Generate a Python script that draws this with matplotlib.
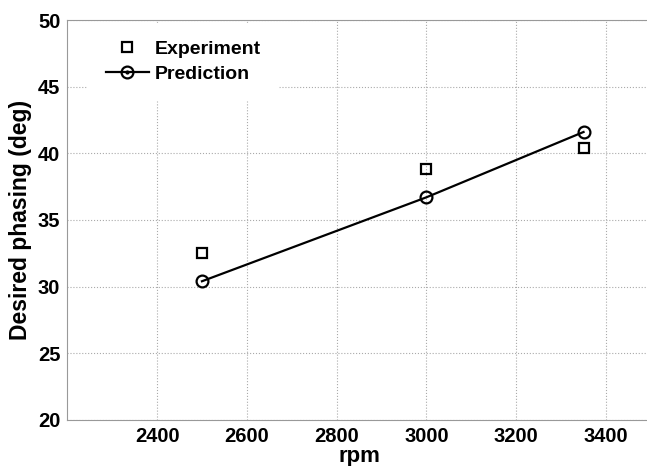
import matplotlib
matplotlib.use("Agg")
import matplotlib.pyplot as plt
from matplotlib.lines import Line2D

rpm = [2500, 3000, 3350]
experiment = [32.5, 38.8, 40.4]
prediction = [30.4, 36.7, 41.6]
xticks = [2400, 2600, 2800, 3000, 3200, 3400]
yticks = [20, 25, 30, 35, 40, 45, 50]

plt.rcParams['font.family'] = ['Liberation Sans', 'DejaVu Sans']
plt.rcParams['font.weight'] = 'bold'

fig = plt.figure(figsize=(6.47, 4.66), dpi=100)
ax = fig.add_axes([0.104, 0.099, 0.902, 0.858])

exp_line, = ax.plot(rpm, experiment, 's', color='black', mfc='none', mew=1.6, ms=7.5,
                    linestyle='none')
pred_line, = ax.plot(rpm, prediction, '-o', color='black', mfc='none', mew=1.6, ms=8.5, lw=1.6)

ax.set_xlim(2200, 3500)
ax.set_ylim(20, 50)
ax.set_xticks(xticks)
ax.set_yticks(yticks)
ax.tick_params(labelsize=14.5, length=0, pad=5)
for lbl in ax.get_xticklabels() + ax.get_yticklabels():
    lbl.set_fontweight('bold')
ax.grid(True, linestyle=':', color='#aaaaaa', lw=0.8)
for s in ax.spines.values():
    s.set_color('#999999')
ax.spines['right'].set_visible(False)

ax.set_xlabel('rpm', fontsize=16, fontweight='bold', labelpad=0)
ax.set_ylabel('Desired phasing (deg)', fontsize=16.5, fontweight='bold', labelpad=4)

# Matlab-style legend marker: circle with a dot in the middle
dot = Line2D([], [], marker='.', ms=4, color='black', linestyle='none')
leg = ax.legend([exp_line, (pred_line, dot)], ['Experiment', 'Prediction'],
                loc='upper left', bbox_to_anchor=(0.036, 0.9925), borderaxespad=0,
                frameon=True, fontsize=14, handlelength=2.2, handletextpad=0.3,
                borderpad=0.9, labelspacing=0.35)
leg.get_frame().set_edgecolor('white')
leg.get_frame().set_facecolor('white')
leg.get_frame().set_alpha(1)
leg.get_frame().set_boxstyle('square', pad=0)

fig.savefig('out.png', dpi=100)
